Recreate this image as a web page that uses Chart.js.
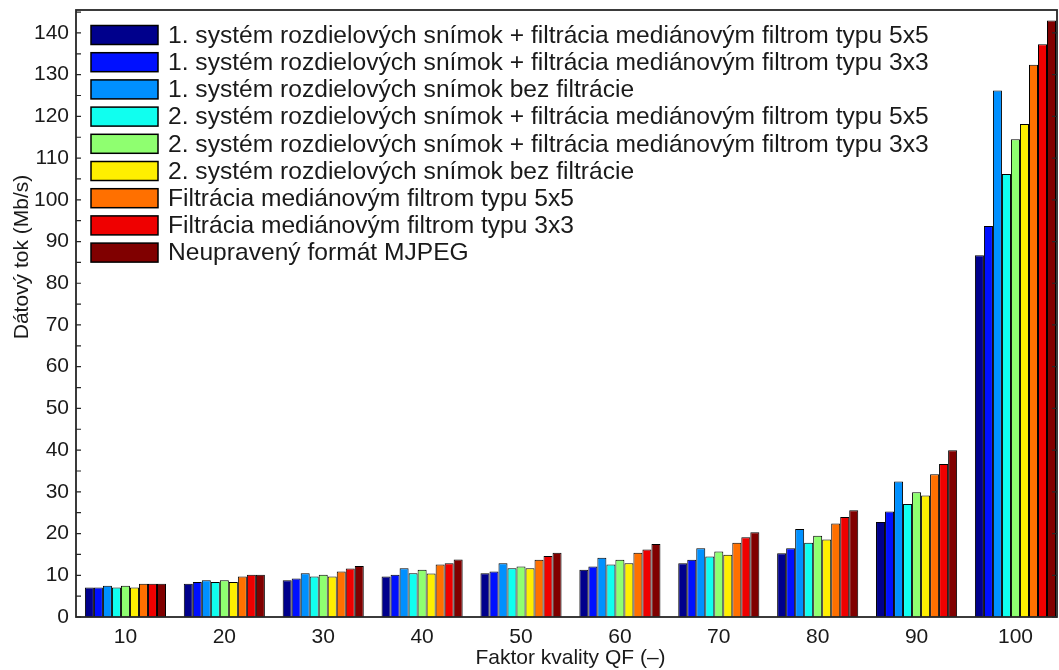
<!DOCTYPE html>
<html>
<head>
<meta charset="utf-8">
<script src="https://cdn.jsdelivr.net/npm/chart.js@4.4.0/dist/chart.umd.min.js"></script>
<style>
  html, body { margin: 0; padding: 0; background: #fff; }
  #wrap { width: 1059px; height: 670px; }
</style>
</head>
<body>
<div id="wrap"><canvas id="bitrateChart"></canvas></div>
<script>
// Quality factor categories and y tick values
const qualityFactors = [10, 20, 30, 40, 50, 60, 70, 80, 90, 100];
const yTickValues = [0, 10, 20, 30, 40, 50, 60, 70, 80, 90, 100, 110, 120, 130, 140];

// Data rates (Mb/s) for each method
const sys1Median5 = [7.1, 8.0, 8.8, 9.7, 10.5, 11.3, 12.9, 15.3, 22.8, 86.7];
const sys1Median3 = [7.1, 8.4, 9.2, 10.1, 10.9, 12.1, 13.7, 16.5, 25.3, 93.7];
const sys1Raw = [7.5, 8.8, 10.5, 11.7, 12.9, 14.2, 16.5, 21.1, 32.5, 126.2];
const sys2Median5 = [7.1, 8.4, 9.7, 10.5, 11.7, 12.6, 14.5, 17.8, 27.1, 106.2];
const sys2Median3 = [7.5, 8.8, 10.1, 11.3, 12.1, 13.7, 15.7, 19.5, 29.9, 114.5];
const sys2Raw = [7.1, 8.4, 9.7, 10.4, 11.7, 12.9, 14.9, 18.6, 29.1, 118.2];
const median5Only = [8.0, 9.7, 10.9, 12.6, 13.7, 15.4, 17.8, 22.4, 34.2, 132.4];
const median3Only = [8.0, 10.1, 11.6, 12.9, 14.6, 16.2, 19.1, 24.0, 36.7, 137.3];
const plainMjpeg = [8.0, 10.1, 12.2, 13.8, 15.4, 17.5, 20.3, 25.6, 40.0, 143.0];

const seriesNames = [
    '1. systém rozdielových snímok + filtrácia mediánovým filtrom typu 5x5',
    '1. systém rozdielových snímok + filtrácia mediánovým filtrom typu 3x3',
    '1. systém rozdielových snímok bez filtrácie',
    '2. systém rozdielových snímok + filtrácia mediánovým filtrom typu 5x5',
    '2. systém rozdielových snímok + filtrácia mediánovým filtrom typu 3x3',
    '2. systém rozdielových snímok bez filtrácie',
    'Filtrácia mediánovým filtrom typu 5x5',
    'Filtrácia mediánovým filtrom typu 3x3',
    'Neupravený formát MJPEG'
];
const seriesValues = [sys1Median5, sys1Median3, sys1Raw, sys2Median5, sys2Median3,
    sys2Raw, median5Only, median3Only, plainMjpeg];

// jet-like colormap
const jetColors = ['#00008C', '#0010FF', '#0090FF', '#10FFEF', '#8FFF70',
    '#FFEF00', '#FF7000', '#EF0000', '#800000'];

const FONT = "'Liberation Sans', Arial, Helvetica, sans-serif";
const INK = '#1a1a1a';

// Box around the plot with inward tick marks (MATLAB style)
const framePlugin = {
    id: 'frame',
    afterDatasetsDraw(chart) {
        const { ctx, chartArea: a, scales: { y } } = chart;
        ctx.save();
        ctx.strokeStyle = '#262626';
        ctx.lineWidth = 1.2;
        ctx.beginPath();
        yTickValues.forEach(v => {
            const py = y.getPixelForValue(v);
            ctx.moveTo(a.left, py); ctx.lineTo(a.left + 5, py);
            ctx.moveTo(a.right, py); ctx.lineTo(a.right - 5, py);
            const half = v + (yTickValues[1] - yTickValues[0]) / 2;
            if (half < y.max) {
                const pm = y.getPixelForValue(half);
                ctx.moveTo(a.left, pm); ctx.lineTo(a.left + 5, pm);
            }
        });
        ctx.stroke();
        ctx.lineWidth = 1.8;
        ctx.strokeRect(a.left, a.top, a.right - a.left, a.bottom - a.top);
        ctx.restore();
    }
};

// Legend in the top-left corner plus the axis titles
const legendPlugin = {
    id: 'boxLegend',
    afterDraw(chart) {
        const { ctx, chartArea: a } = chart;
        ctx.save();
        ctx.font = '24.6px ' + FONT;
        ctx.textBaseline = 'middle';
        ctx.textAlign = 'left';
        chart.data.datasets.forEach((ds, i) => {
            const cy = a.top + 25 + i * 27.2;
            ctx.fillStyle = ds.backgroundColor;
            ctx.fillRect(a.left + 15, cy - 9.5, 67, 19);
            ctx.strokeStyle = '#000';
            ctx.lineWidth = 1.5;
            ctx.strokeRect(a.left + 15, cy - 9.5, 67, 19);
            ctx.fillStyle = INK;
            ctx.fillText(ds.label, a.left + 92, cy + 1);
        });

        ctx.font = '21px ' + FONT;
        ctx.fillStyle = INK;
        ctx.textAlign = 'center';
        ctx.textBaseline = 'alphabetic';
        ctx.fillText('Faktor kvality QF (–)', (a.left + a.right) / 2 + 4, 664);

        ctx.translate(28, 257);
        ctx.rotate(-Math.PI / 2);
        ctx.fillText('Dátový tok (Mb/s)', 0, 0);
        ctx.restore();
    }
};

new Chart(document.getElementById('bitrateChart'), {
    type: 'bar',
    data: {
        labels: qualityFactors,
        datasets: seriesValues.map((vals, i) => ({
            label: seriesNames[i],
            data: vals,
            backgroundColor: jetColors[i],
            borderColor: '#000',
            borderWidth: 1,
            categoryPercentage: 0.82,
            barPercentage: 1.0
        }))
    },
    options: {
        responsive: true,
        maintainAspectRatio: false,
        animation: false,
        layout: { padding: { top: 10, right: 2, left: 0, bottom: 0 } },
        plugins: {
            legend: { display: false },
            tooltip: { enabled: false }
        },
        scales: {
            x: {
                type: 'linear',
                offset: false,
                min: 5,
                max: 104.2,
                afterBuildTicks: axis => { axis.ticks = qualityFactors.map(v => ({ value: v })); },
                afterFit: axis => {
                    axis.height = 53;
                    axis.paddingLeft = 0;
                    axis.paddingRight = 0;
                },
                grid: { display: false, drawTicks: false, offset: false },
                border: { display: false },
                ticks: {
                    padding: 8,
                    color: INK,
                    font: { family: FONT, size: 21 },
                    maxRotation: 0,
                    autoSkip: false
                }
            },
            y: {
                min: 0,
                max: 145.5,
                afterBuildTicks: axis => { axis.ticks = yTickValues.map(v => ({ value: v })); },
                afterFit: axis => {
                    axis.width = 76;
                    axis.paddingTop = 0;
                    axis.paddingBottom = 0;
                },
                grid: { display: false, drawTicks: false },
                border: { display: false },
                ticks: {
                    padding: 7,
                    color: INK,
                    font: { family: FONT, size: 21 }
                }
            }
        }
    },
    plugins: [framePlugin, legendPlugin]
});
</script>
</body>
</html>
